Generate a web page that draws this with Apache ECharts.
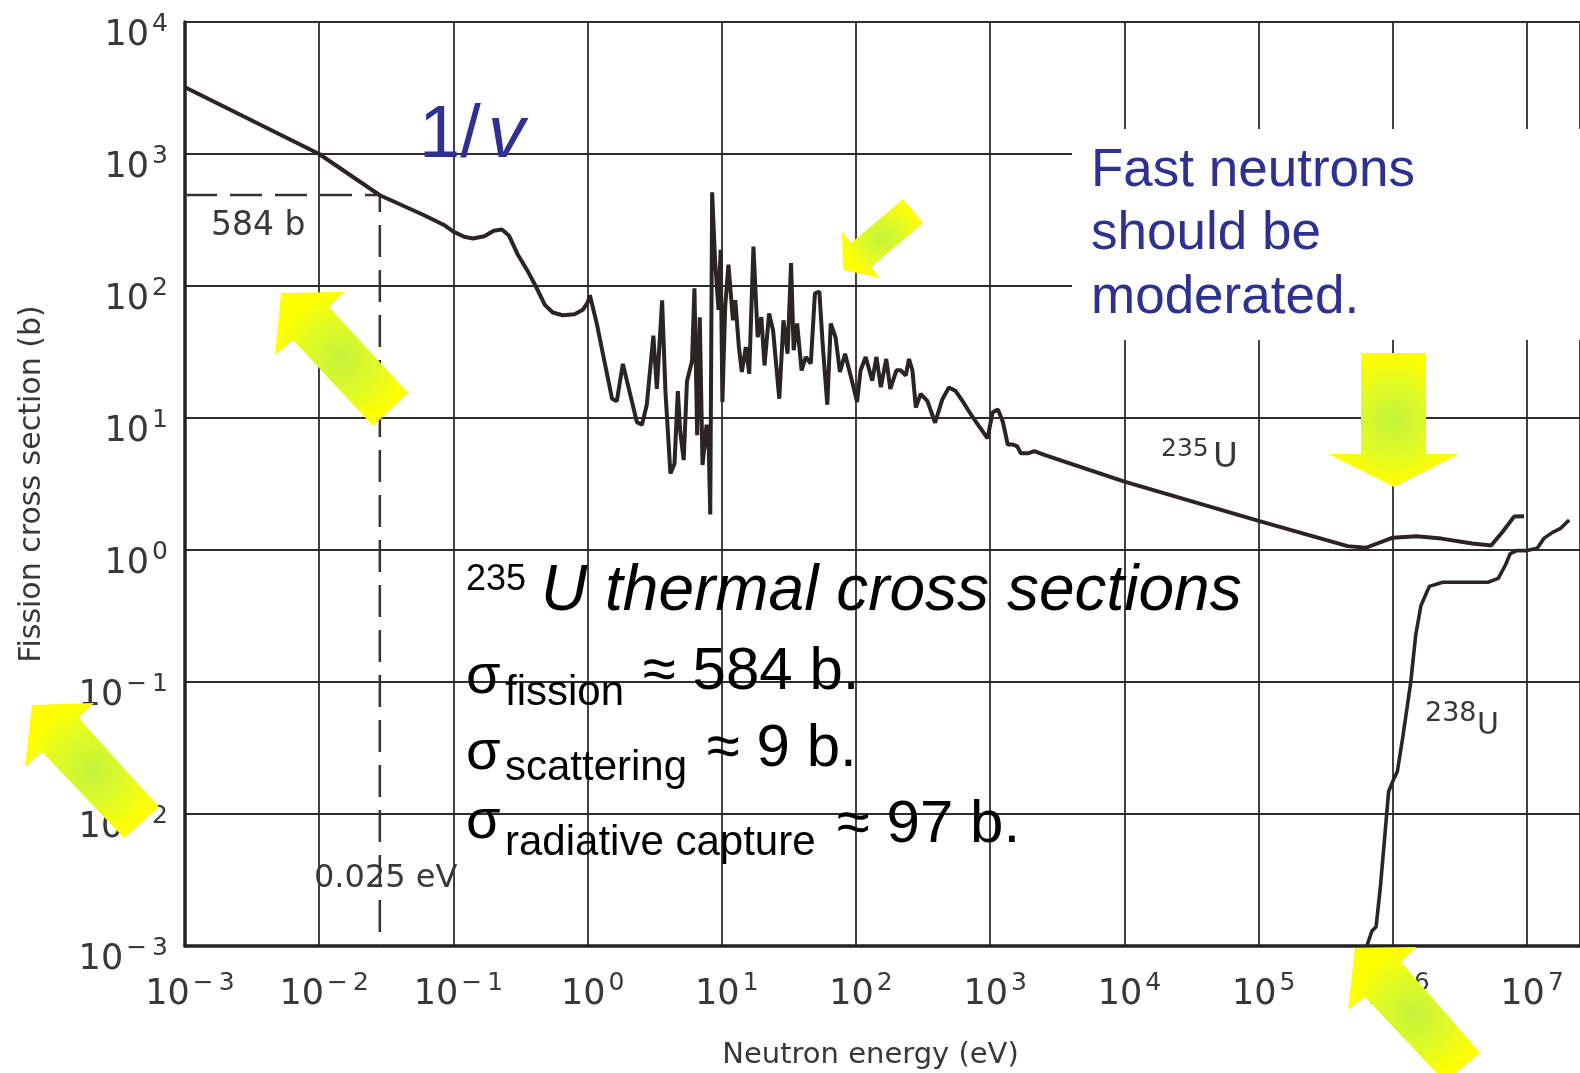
<!DOCTYPE html>
<html><head><meta charset="utf-8">
<script src="https://cdn.jsdelivr.net/npm/echarts@6/dist/echarts.min.js"></script>
<style>html,body{margin:0;padding:0;background:#fff}#c{width:1580px;height:1073px}</style>
</head><body><div id="c"></div>
<script>
// ---- data (energy in eV, cross section in barns) ----
const u235Fission = [
  [0.001,3200],[0.01,1000],[0.0283,487],[0.06,345],[0.085,290],[0.1,258],[0.12,236],[0.14,229],
  [0.17,238],[0.2,262],[0.23,268],[0.26,240],[0.3,175],[0.36,128],[0.41,100],[0.48,72],[0.55,63],
  [0.65,60],[0.8,61],[0.92,66],[1.0,75],[1.04,85],
  [1.17,52],[1.52,14],[1.65,13.4],[1.83,25.7],[2.33,9.3],[2.54,8.9],[2.76,12.6],[3.09,42],[3.28,16.6],
  [3.59,78],[3.8,15.9],[4.14,3.8],[4.44,4.5],[4.7,16],[4.9,7.9],[5.2,4.8],[5.5,19],[6.0,27],[6.25,96],
  [6.55,7.4],[6.85,58],[7.18,4.4],[7.7,8.9],[8.0,5.6],[8.2,1.86],[8.47,513],[8.9,158],[9.45,66],
  [9.8,188],[10.1,13.2],[10.6,70],[11.2,145],[12.1,55],[12.6,78],[13.4,34.5],[14.1,22.3],[15.1,34.5],
  [16.0,21.6],[17.2,199],[18.5,41],[19.7,58],[20.8,25],[22.5,62],[24.1,46],[26.8,14],[28.8,55],
  [30.9,30.7],[32.8,149],[34.3,32.6],[36.4,52],[39.3,22.9],[42.2,29],[46,25.8],[49.4,88],[53.3,90.6],
  [56.6,34.5],[61.1,12.6],[64.8,52],[70.3,41],[75.9,22.3],[82.8,30.7],[93.1,19.2],[101.8,13.2],
  [108,22.9],[118,29],[132,19.2],[142,29],[153,17.1],[168,28],[180,16.6],[200,23],[215,23],[235,21],
  [248,28],[263,23],[279,12],[303,15.2],[340,13.5],[388,9.2],[439,13.8],[492,17],[553,16],[620,13.5],
  [695,11.2],[780,9.4],[850,8.3],[955,7.0],[1040,11],[1140,11.6],[1240,9.4],[1350,6.3],[1475,6.3],
  [1590,6.1],[1690,5.4],[1900,5.4],[2130,5.6],[2530,5.25],
  [1e4,3.3],[1e5,1.66],[4.6e5,1.07],[6.3e5,1.04],[1e6,1.24],[1.5e6,1.27],[2.3e6,1.22],[3.9e6,1.12],
  [5.4e6,1.08],[6.6e6,1.38],[8e6,1.79],[9.5e6,1.8]
];
const u238Fission = [
  [6.4e5,0.001],[6.98e5,0.0013],[7.5e5,0.0014],[8.1e5,0.0029],[9.3e5,0.0148],[1.02e6,0.0186],
  [1.08e6,0.021],[1.18e6,0.037],[1.36e6,0.1],[1.48e6,0.227],[1.62e6,0.38],[1.87e6,0.53],[2.35e6,0.57],
  [3.5e6,0.57],[5.1e6,0.57],[6.1e6,0.61],[6.9e6,0.77],[7.5e6,0.94],[8.4e6,0.99],[1e7,0.99],
  [1.19e7,1.03],[1.34e7,1.23],[1.55e7,1.36],[1.78e7,1.46],[2.06e7,1.69]
];
const thermalRef = [[0.001,490],[0.0283,490],[0.0283,0.001]];
const xRange = [0.001, 2.48e7];
const yRange = [0.001, 10000];

// ---- helpers ----
const SCAN = '#383838', BLUE = '#2e3192';
function powLabel(v){
  const e = Math.log10(v), r = Math.round(e);
  if (Math.abs(e - r) > 1e-6) return '';
  const s = r < 0 ? '\u2212\u2009' + (-r) : String(r);
  return '{b|10}{e|' + s + '}';
}
const labelRich = {
  b:{fontFamily:'DejaVu Sans', fontSize:35, color:SCAN, lineHeight:34, verticalAlign:'middle', padding:[27,0,0,0]},
  e:{fontFamily:'DejaVu Sans', fontSize:25, color:SCAN, lineHeight:24, verticalAlign:'middle', padding:[5,0,0,3]}
};
function txt(text, x, base, size, opt){
  return {type:'text', z:40, silent:true, style:Object.assign({
    text:text, x:x, y:base - 0.35*size, fontSize:size, fontFamily:'Liberation Sans',
    fill:'#000', align:'left', verticalAlign:'middle'}, opt||{})};
}
const arrowFill = {type:'radial', x:0.5, y:0.5, r:0.5, colorStops:[
  {offset:0, color:'#c4f43c'},{offset:0.55, color:'#e0fa24'},{offset:1, color:'#ffff00'}]};
function arrow(points){ return {type:'polygon', z:50, silent:true, shape:{points:points}, style:{fill:arrowFill}}; }

const graphics = [
  {type:'rect', z:30, silent:true, shape:{x:1072, y:129, width:508, height:211}, style:{fill:'#fff'}},
  txt('1/', 419, 162, 74, {fill:BLUE}),
  txt('v', 488, 162, 74, {fill:BLUE, fontStyle:'italic'}),
  txt('Fast neutrons', 1091, 190, 53, {fill:BLUE}),
  txt('should be', 1091, 253, 53, {fill:BLUE}),
  txt('moderated.', 1091, 317, 53, {fill:BLUE}),
  txt('235', 466, 593, 36),
  txt('U thermal cross sections', 541, 615, 64, {fontStyle:'italic'}),
  txt('\u03c3', 466, 697, 56),
  txt('fission', 505, 708, 42),
  txt('\u2248 584 b.', 643, 693, 60),
  txt('\u03c3', 466, 773, 56),
  txt('scattering', 505, 783, 42),
  txt('\u2248 9 b.', 707, 770, 60),
  txt('\u03c3', 466, 842, 56),
  txt('radiative capture', 505, 858, 42),
  txt('\u2248 97 b.', 837, 846, 60),
  txt('584 b', 211, 238, 33, {fontFamily:'DejaVu Sans', fill:SCAN}),
  txt('0.025 eV', 314, 890, 32, {fontFamily:'DejaVu Sans', fill:SCAN}),
  txt('235', 1161, 458, 25, {fontFamily:'DejaVu Sans', fill:SCAN}),
  txt('U', 1213, 470, 34, {fontFamily:'DejaVu Sans', fill:SCAN}),
  txt('238', 1425, 723, 27, {fontFamily:'DejaVu Sans', fill:SCAN}),
  txt('U', 1477, 737, 30, {fontFamily:'DejaVu Sans', fill:SCAN}),
  arrow([[281,293],[344,292],[329,307],[408,393],[373,426],[293,340],[275,355]]),
  arrow([[843,270],[880,278],[871,267],[923,223],[903,199],[851,243],[842,232]]),
  arrow([[1361,353],[1426,353],[1426,454],[1459,454],[1394,487],[1328,454],[1361,454]]),
  arrow([[32,705],[94,703],[78.5,718],[159,807],[124,838],[42,752],[25,767]]),
  arrow([[1355,948],[1416,947],[1401,962],[1480,1053],[1445,1082],[1365,997],[1348,1010]])
];

const chart = echarts.init(document.getElementById('c'), null, {renderer:'canvas'});
chart.setOption({
  animation:false,
  backgroundColor:'#fff',
  grid:{left:185, right:0, top:22, bottom:127, containLabel:false, outerBoundsMode:'none'},
  xAxis:{
    type:'log', logBase:10, min:xRange[0], max:xRange[1], interval:1,
    name:'Neutron energy (eV)', nameLocation:'middle', nameGap:95,
    nameTextStyle:{fontFamily:'DejaVu Sans', fontSize:29, color:SCAN, padding:[0,24,0,0]},
    axisLine:{show:true, lineStyle:{color:'#222', width:3.5}},
    axisTick:{show:false}, minorTick:{show:false},
    axisLabel:{formatter:powLabel, rich:labelRich, margin:18, padding:[0,0,0,10], showMaxLabel:false},
    splitLine:{show:true, lineStyle:{color:'#2d2d2d', width:1.8}}
  },
  yAxis:{
    type:'log', logBase:10, min:yRange[0], max:yRange[1], interval:1,
    name:'Fission cross section (b)', nameLocation:'middle', nameGap:138, nameRotate:90,
    nameTextStyle:{fontFamily:'DejaVu Sans', fontSize:30, color:SCAN},
    axisLine:{show:true, lineStyle:{color:'#222', width:3.5}},
    axisTick:{show:false}, minorTick:{show:false},
    axisLabel:{formatter:powLabel, rich:labelRich, margin:17},
    splitLine:{show:true, lineStyle:{color:'#2d2d2d', width:1.8}}
  },
  series:[
    {name:'235U', type:'line', data:u235Fission, showSymbol:false, smooth:false,
     lineStyle:{color:'#2a2424', width:4}, z:5},
    {name:'238U', type:'line', data:u238Fission, showSymbol:false, smooth:false,
     lineStyle:{color:'#2a2424', width:3.6}, z:5},
    {name:'thermal', type:'line', data:thermalRef, showSymbol:false,
     lineStyle:{color:'#333', width:2.5, type:[32,13]}, z:4}
  ],
  graphic:graphics
});
</script></body></html>
